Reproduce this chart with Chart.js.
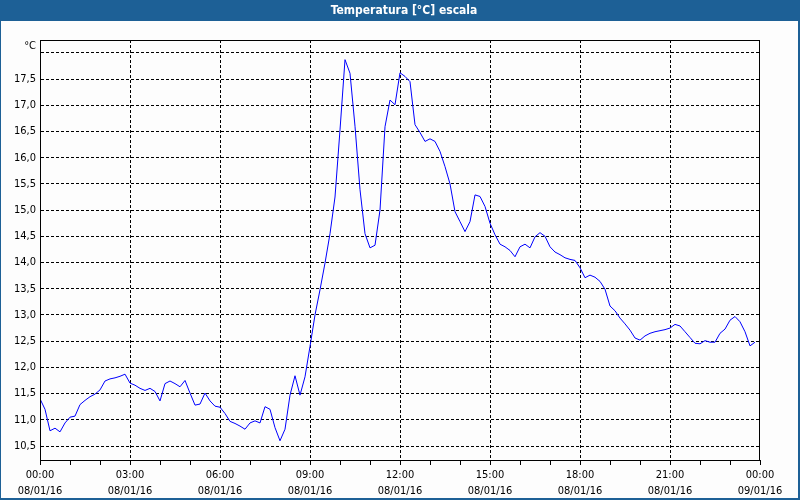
<!DOCTYPE html>
<html>
<head>
<meta charset="utf-8">
<script src="https://cdn.jsdelivr.net/npm/chart.js@4"></script>
<style>
  html, body { margin: 0; padding: 0; background: #fff; }
  #wrap { position: relative; width: 800px; height: 500px; }
</style>
</head>
<body>
<div id="wrap"><canvas id="temp-chart" width="800" height="500"></canvas></div>
<script>
// readings every 10 minutes, starting 08/01/16 00:00
const stepMinutes = 10;
const temps = [
    11.40, 11.20, 10.79, 10.84, 10.77, 10.94, 11.05, 11.07, 11.29, 11.37,
    11.44, 11.49, 11.57, 11.74, 11.78, 11.80, 11.83, 11.87, 11.70, 11.66,
    11.60, 11.56, 11.60, 11.54, 11.36, 11.69, 11.74, 11.69, 11.63, 11.75,
    11.51, 11.28, 11.30, 11.51, 11.36, 11.26, 11.24, 11.12, 10.97, 10.93,
    10.88, 10.82, 10.94, 10.98, 10.94, 11.25, 11.20, 10.85, 10.60, 10.82,
    11.47, 11.84, 11.47, 11.82, 12.40, 13.00, 13.48, 13.99, 14.55, 15.25,
    16.53, 17.87, 17.61, 16.60, 15.39, 14.55, 14.28, 14.33, 15.00, 16.59,
    17.10, 17.01, 17.62, 17.55, 17.45, 16.63, 16.48, 16.31, 16.36, 16.31,
    16.12, 15.83, 15.50, 14.97, 14.78, 14.59, 14.78, 15.29, 15.26, 15.07,
    14.75, 14.53, 14.35, 14.30, 14.23, 14.11, 14.30, 14.35, 14.28, 14.49,
    14.57, 14.50, 14.30, 14.20, 14.15, 14.09, 14.06, 14.04, 13.90, 13.71,
    13.76, 13.72, 13.64, 13.49, 13.17, 13.08, 12.94, 12.83, 12.71, 12.56,
    12.52, 12.60, 12.65, 12.68, 12.70, 12.72, 12.75, 12.82, 12.79, 12.68,
    12.57, 12.46, 12.45, 12.51, 12.48, 12.48, 12.65, 12.73, 12.90, 12.97,
    12.87, 12.68, 12.41, 12.48
];

const xTickLabels = [
    ["00:00", "08/01/16"], ["03:00", "08/01/16"], ["06:00", "08/01/16"],
    ["09:00", "08/01/16"], ["12:00", "08/01/16"], ["15:00", "08/01/16"],
    ["18:00", "08/01/16"], ["21:00", "08/01/16"], ["00:00", "09/01/16"]
];
const yTicks = [10.5, 11.0, 11.5, 12.0, 12.5, 13.0, 13.5, 14.0, 14.5, 15.0, 15.5, 16.0, 16.5, 17.0, 17.5, 18.0];
const titleText = "Temperatura [°C] escala";
const unitText = "°C";

const blueFrame = "#1d6096";
const labelFont = { family: "'DejaVu Sans Condensed', 'DejaVu Sans', sans-serif", size: 11 };

const points = temps.map((t, i) => ({ x: i * stepMinutes, y: t }));

// title bar, outer frame and plot box
const framePlugin = {
    id: "frame",
    beforeDraw(chart) {
        const c = chart.ctx;
        c.save();
        c.fillStyle = "#fdfdfd";
        c.fillRect(0, 0, chart.width, chart.height);
        c.fillStyle = blueFrame;
        c.fillRect(0, 0, chart.width, 21);
        c.fillRect(0, 0, 1, chart.height);
        c.fillRect(chart.width - 2, 0, 2, chart.height);
        c.fillRect(0, chart.height - 2, chart.width, 2);
        c.fillStyle = "#ffffff";
        c.font = "bold 12px 'DejaVu Sans Condensed', 'DejaVu Sans', sans-serif";
        c.textAlign = "center";
        c.textBaseline = "middle";
        c.fillText(titleText, chart.width / 2 + 4, 11);
        c.restore();
    },
    afterDraw(chart) {
        const a = chart.chartArea;
        const c = chart.ctx;
        c.save();
        c.strokeStyle = "#000";
        c.lineWidth = 1;
        c.strokeRect(Math.round(a.left) + 0.5, Math.round(a.top) + 0.5,
                     Math.round(a.right - a.left) - 1, Math.round(a.bottom - a.top));
        c.fillStyle = "#000";
        c.font = "11px 'DejaVu Sans Condensed', 'DejaVu Sans', sans-serif";
        c.textAlign = "right";
        c.textBaseline = "middle";
        c.fillText(unitText, 36, 46);
        c.restore();
    }
};

new Chart(document.getElementById("temp-chart").getContext("2d"), {
    type: "line",
    data: {
        datasets: [{
            label: titleText,
            data: points,
            borderColor: "#0000ff",
            borderWidth: 1,
            pointRadius: 0,
            tension: 0,
            fill: false
        }]
    },
    options: {
        responsive: false,
        animation: false,
        layout: { padding: { left: 0, right: 40, top: 40, bottom: 0 } },
        plugins: { legend: { display: false }, title: { display: false }, tooltip: { enabled: false } },
        scales: {
            x: {
                type: "linear",
                min: 0,
                max: 1440,
                afterFit(scale) { scale.height = 40; },
                afterBuildTicks(scale) {
                    const t = [];
                    for (let m = 0; m <= 1440; m += 60) t.push({ value: m });
                    scale.ticks = t;
                },
                ticks: {
                    autoSkip: false,
                    maxRotation: 0,
                    padding: 2,
                    color: "#000",
                    font: { ...labelFont, lineHeight: 1.45 },
                    callback: v => (v % 180 === 0 ? xTickLabels[v / 180] : "")
                },
                grid: {
                    color: ctx => (ctx.tick && ctx.tick.value % 180 === 0 && ctx.tick.value > 0 && ctx.tick.value < 1440) ? "#000" : "rgba(0,0,0,0)",
                    tickColor: "#000",
                    tickLength: 5,
                    lineWidth: 1
                },
                border: { display: true, color: "#000", width: 1, dash: [3, 2] }
            },
            y: {
                min: 10.233,
                max: 18.245,
                afterFit(scale) { scale.width = 40; },
                afterBuildTicks(scale) { scale.ticks = yTicks.map(v => ({ value: v })); },
                ticks: {
                    padding: 4,
                    color: "#000",
                    font: labelFont,
                    callback: v => (v >= 18 ? "" : v.toFixed(1).replace(".", ","))
                },
                grid: { color: "#000", drawTicks: false, lineWidth: 1 },
                border: { display: true, color: "#000", width: 1, dash: [3, 2] }
            }
        }
    },
    plugins: [framePlugin]
});
</script>
</body>
</html>
